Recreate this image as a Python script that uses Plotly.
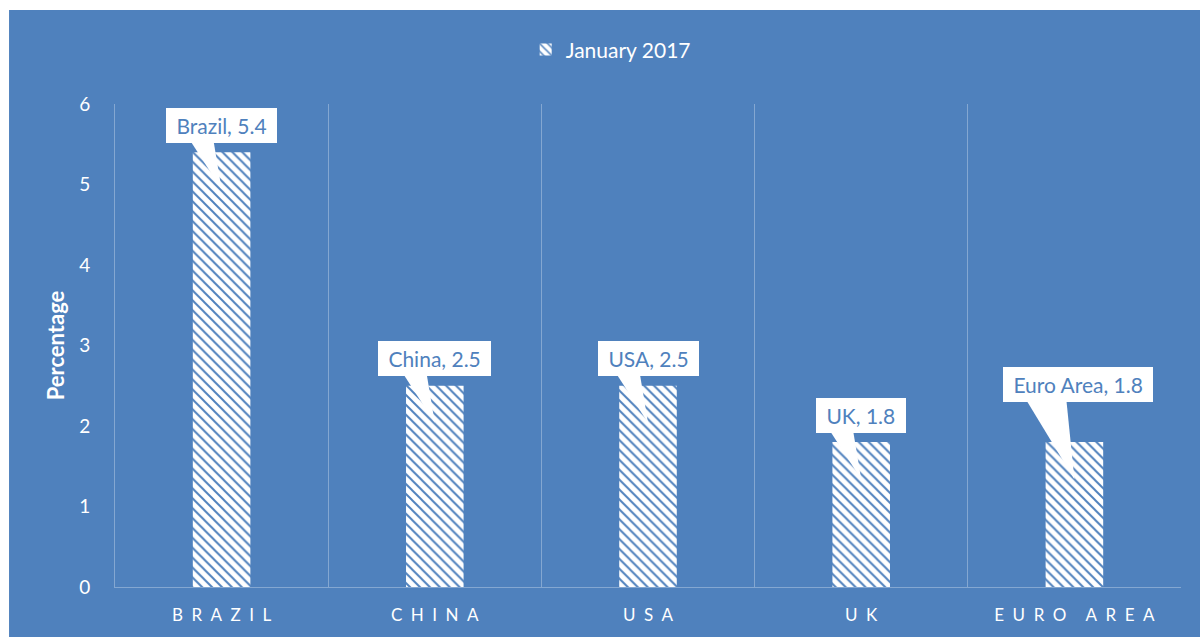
import plotly.graph_objects as go

# Inflation rates, January 2017
countries = ["Brazil", "China", "USA", "UK", "Euro Area"]
axis_labels = ["BRAZIL", "CHINA", "USA", "UK", "EURO AREA"]
rates = [5.4, 2.5, 2.5, 1.8, 1.8]
series_name = "January 2017"
y_ticks = [0, 1, 2, 3, 4, 5, 6]

BLUE = "#4F81BD"
GRID = "rgba(255,255,255,0.30)"
FONT = "Lato, 'Open Sans', sans-serif"


def spaced(word):
    # wide tracking for the category labels
    return "\u2002".join(word.replace(" ", "\u2009"))


fig = go.Figure()
fig.add_trace(go.Bar(
    x=countries,
    y=rates,
    name=series_name,
    width=0.27,
    marker=dict(
        color="white",
        line=dict(width=0),
        pattern=dict(shape="\\", bgcolor="white", fgcolor=BLUE,
                     size=7, solidity=0.28, fillmode="replace"),
    ),
    showlegend=True,
))

# callout labels: white box plus a white wedge pointing into each bar
for c, v in zip(countries, rates):
    tip = v - 0.46
    lift = 95 if c == "Euro Area" else 64
    fig.add_annotation(
        x=c, y=tip, xref="x", yref="y",
        text=f"\u00a0{c}, {v}\u00a0",
        showarrow=True, arrowcolor="rgba(0,0,0,0)", arrowwidth=0.1,
        ax=4 if c == "Euro Area" else 0, ay=-lift,
        bgcolor="white", bordercolor="white", borderpad=4,
        font=dict(family=FONT, size=21, color=BLUE),
    )
    base = lift - 16
    left = -48 if c == "Euro Area" else -31
    fig.add_shape(
        type="path", xref="x", yref="y",
        xsizemode="pixel", ysizemode="pixel",
        xanchor=c, yanchor=tip,
        path=f"M 0 0 L {left} {base} L -8 {base} Z",
        fillcolor="white", line=dict(width=0),
    )

# blue chart body with a thin white edge on the top and left
fig.add_shape(type="rect", xref="paper", yref="paper",
              x0=-0.0994, x1=1.02, y0=-0.11, y1=1.1946,
              fillcolor=BLUE, line=dict(width=0), layer="below")

fig.update_layout(
    width=1200, height=637,
    paper_bgcolor="white", plot_bgcolor=BLUE,
    margin=dict(l=115, r=19, t=104, b=50),
    font=dict(family=FONT, color="white", size=18),
    bargap=0.73,
    legend=dict(orientation="h", x=0.465, xanchor="center", y=1.112, yanchor="middle",
                font=dict(size=21, color="white"), bgcolor="rgba(0,0,0,0)"),
    xaxis=dict(
        tickmode="array", tickvals=countries,
        ticktext=[spaced(t) for t in axis_labels],
        tickson="boundaries", ticks="",
        showgrid=True, gridcolor=GRID, gridwidth=1,
        showline=True, linecolor=GRID, linewidth=1,
        ticklabelstandoff=13,
        tickfont=dict(size=17, color="white"),
        fixedrange=True,
    ),
    yaxis=dict(
        range=[0, 6], tickvals=y_ticks, showgrid=False,
        zeroline=False, showline=True, linecolor=GRID, linewidth=1,
        ticks="", ticklabelstandoff=20,
        tickfont=dict(size=19, color="white"),
        title=dict(text="<b>Percentage</b>", font=dict(size=22, color="white"), standoff=8),
    ),
)

fig.write_html("out.html")
